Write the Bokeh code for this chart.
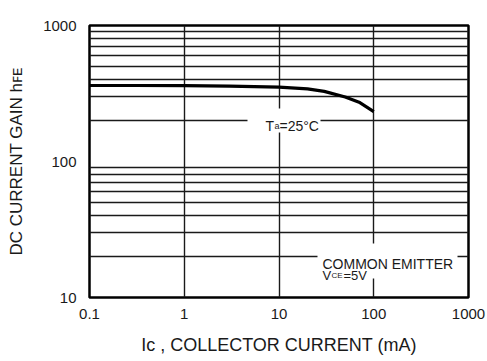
from bokeh.plotting import figure
from bokeh.models import Label, BoxAnnotation, FixedTicker, CustomJSTickFormatter
from bokeh.embed import file_html
from bokeh.resources import INLINE

# ---- data ----
ic_ma = [0.1, 0.3, 1, 3, 10, 20, 30, 50, 70, 100]
hfe = [362, 362, 361, 358, 352, 342, 328, 298, 273, 233]

x_ticks = [0.1, 1, 10, 100, 1000]
x_tick_labels = ["0.1", "1", "10", "100", "1000"]
y_ticks = [10, 100, 1000]
y_tick_labels = ["10", "100", "1000"]
x_grid = [1, 10, 100]
y_grid = [20, 30, 40, 50, 60, 70, 80, 90, 200, 300, 400, 500, 600, 700, 800, 900]

x_title = "I\u1d04 , COLLECTOR CURRENT (mA)"
y_title = "DC CURRENT GAIN h\ua730\u1d07"

# ---- layout ----
W, H = 487, 361
BL, BR, BT, BB = 89, 19, 25, 64
FW, FH = W - BL - BR, H - BT - BB
FONT = "Liberation Sans"
INK = "#1a1a1a"

def fx(px):
    return 10 ** (-1 + 4 * (px - BL) / FW)

def fy(py):
    return 10 ** (1 + 2 * (H - BB - py) / FH)

p = figure(width=W, height=H, x_axis_type="log", y_axis_type="log",
           x_range=(0.1, 1000), y_range=(10, 1000),
           output_backend="svg", toolbar_location=None,
           min_border_left=BL, min_border_right=BR,
           min_border_top=BT, min_border_bottom=BB)

p.outline_line_color = "black"
p.outline_line_width = 2.5
p.background_fill_color = "white"
p.border_fill_color = "white"

fmt_js = ("const i = vals.findIndex(t => Math.abs(Math.log10(t) - Math.log10(tick)) < 1e-6);"
          "return i >= 0 ? labs[i] : '';")
p.xaxis.ticker = FixedTicker(ticks=x_ticks)
p.xaxis.formatter = CustomJSTickFormatter(args=dict(vals=x_ticks, labs=x_tick_labels), code=fmt_js)
p.yaxis.ticker = FixedTicker(ticks=y_ticks)
p.yaxis.formatter = CustomJSTickFormatter(args=dict(vals=y_ticks, labs=y_tick_labels), code=fmt_js)
for ax in (p.xaxis, p.yaxis):
    ax.axis_line_color = None
    ax.major_tick_line_color = None
    ax.minor_tick_line_color = None
    ax.major_label_text_font = FONT
    ax.major_label_text_font_size = "15px"
    ax.major_label_text_color = INK
    ax.axis_label_text_font = FONT
    ax.axis_label_text_font_style = "normal"
    ax.axis_label_text_color = INK
p.xaxis.major_label_standoff = 5
p.yaxis.major_label_standoff = 7
p.xaxis.axis_label = x_title
p.xaxis.axis_label_text_font_size = "18px"
p.xaxis.axis_label_standoff = 13
p.yaxis.axis_label = y_title
p.yaxis.axis_label_text_font_size = "17px"
p.yaxis.axis_label_standoff = 14

p.xgrid.ticker = FixedTicker(ticks=x_grid)
p.ygrid.ticker = FixedTicker(ticks=y_grid)
for g in (p.xgrid, p.ygrid):
    g.grid_line_color = INK
    g.grid_line_width = 1.4
    g.grid_line_alpha = 1.0

# curve
p.line(ic_ma, hfe, line_color="black", line_width=3.2)

# white gaps behind the in-plot annotations
p.add_layout(BoxAnnotation(left=fx(247), right=fx(320), bottom=fy(132), top=fy(108),
                           fill_color="white", fill_alpha=1, line_color=None))
p.add_layout(BoxAnnotation(left=fx(317), right=fx(457), bottom=fy(278), top=fy(243),
                           fill_color="white", fill_alpha=1, line_color=None))

def lab(text, px, py, size, align="left", baseline="alphabetic"):
    p.add_layout(Label(x=fx(px), y=fy(py), text=text, text_font=FONT,
                       text_font_size=size, text_color=INK, text_align=align,
                       text_baseline=baseline))

# Ta = 25 C
lab("T", 265, 125, "14px")
lab("a", 274, 125, "9px")
lab("=25\u00b0C", 279, 125, "14px")

# common emitter
lab("COMMON EMITTER", 322, 263, "14px")
lab("V", 322, 275, "13px")
lab("CE", 331, 275, "8px")
lab("=5V", 343, 275, "13px")

open("out.html", "w").write(file_html(p, INLINE))
